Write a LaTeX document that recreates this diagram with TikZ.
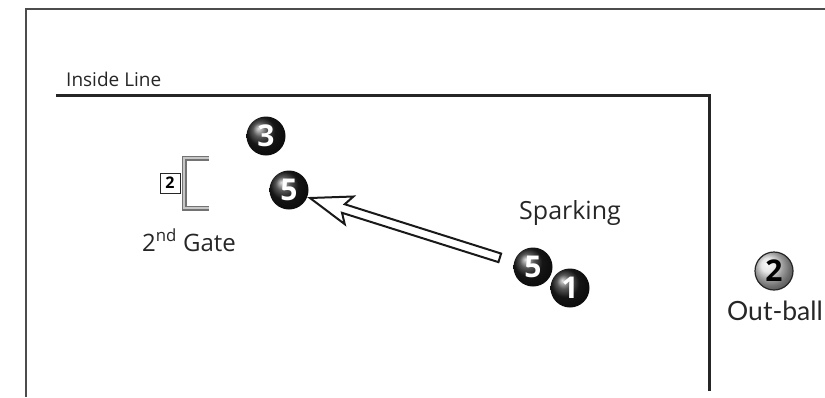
\documentclass[tikz,border=0pt]{standalone}
\usepackage{fontspec}
\setmainfont{Open Sans}
\newfontfamily\labelfont{Lato}
\usetikzlibrary{shadings}
\begin{document}
\begin{tikzpicture}[x=1pt,y=-1pt,
  darkball/.style={circle, minimum size=39pt, inner sep=0pt, shading=ball,
    ball color=black!88, text=white, font=\bfseries\fontsize{30}{30}\selectfont},
  lightball/.style={circle, minimum size=38pt, inner sep=0pt, shading=ball,
    ball color=gray!25, draw=black!85, line width=1.2pt, text=black,
    font=\bfseries\fontsize{30}{30}\selectfont},
  caption/.style={inner sep=0pt, text=black!85},
  boundary/.style={draw=black!85, line width=3pt},
  frame/.style={draw=black!70, line width=1.3pt},
  gatebar/.style={draw=black!55, line width=1.3pt, double=black!22, double distance=2.4pt},
  hollowarrow/.style={draw=black!90, fill=white, line width=2pt, line join=miter}
]
\useasboundingbox (0,0) rectangle (825,397);

% outer frame
\draw[frame] (825,9) -- (26,9) -- (26,397);

% inside line
\draw[boundary] (56,95) -- (709,95) -- (709,391);
\node[caption, anchor=base west, font=\fontsize{19}{19}\selectfont]
      (insidelabel) at (66,86) {Inside Line};

% second gate
\draw[gatebar] (209,158) -- (184,158) -- (184,208) -- (209,208);
\node[draw=black!85, line width=0.9pt, minimum size=20pt, inner sep=0pt,
      font=\bfseries\fontsize{16}{16}\selectfont] (gatenum) at (170,183) {2};
\node[caption, anchor=base, font=\fontsize{24}{24}\selectfont]
      (gatelabel) at (189,251) {2\textsuperscript{nd} Gate};

% balls
\node[darkball] (b3) at (266,136) {3};
\node[darkball] (b5a) at (289,190) {5};
\node[darkball] (b5b) at (533,267) {5};
\node[darkball] (b1) at (570,288) {1};
\node[lightball] (b2) at (774,271) {2};

\node[caption, anchor=base west, font=\fontsize{25}{25}\selectfont]
      (sparklabel) at (519,219) {Sparking};
\node[caption, anchor=base west, font=\labelfont\fontsize{26.5}{26.5}\selectfont]
      (outlabel) at (727,320) {Out-ball};

% hollow arrow from the sparking position to the ball it drives
\coordinate (tail) at (500,258);
\coordinate (tip) at (310,198);
\begin{scope}[shift={(tip)}, rotate=-17.5]
  \draw[hollowarrow] (0,0) -- (41,-14.5) -- (35,-4.5) -- (199,-4.5) -- (199,4.5)
        -- (35,4.5) -- (41,14.5) -- cycle;
\end{scope}
\end{tikzpicture}
\end{document}
